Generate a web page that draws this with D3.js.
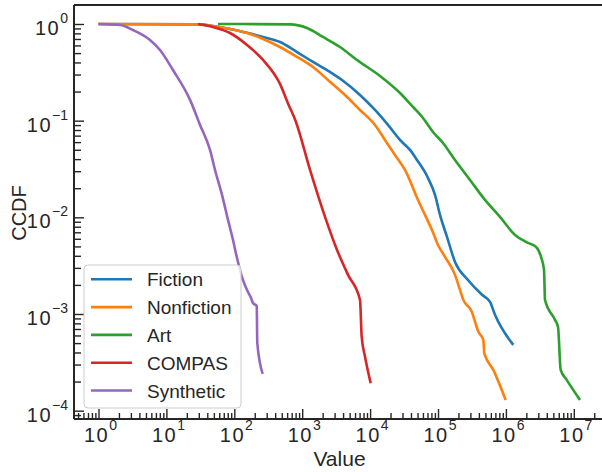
<!DOCTYPE html>
<html>
<head>
<meta charset="utf-8">
<script src="https://cdn.jsdelivr.net/npm/d3@7.9.0/dist/d3.min.js"></script>
<style>
  body { margin: 0; background: #fff; }
  svg { font-family: Arial, "Liberation Sans", sans-serif; }
</style>
</head>
<body>
<svg id="chart" width="602" height="472"></svg>
<script>
// series names + colors (legend order)
const names = ['Fiction', 'Nonfiction', 'Art', 'COMPAS', 'Synthetic'];
const colors = ['#1f77b4', '#ff7f0e', '#2ca02c', '#d62728', '#9467bd'];

// values: [value, ccdf]
const fiction = [[1,1],[28,0.99],[48.6,0.953],[86.5,0.888],[154,0.81],[265,0.734],[471,0.651],[838,0.513],
  [1442,0.405],[2567,0.319],[3856,0.2636],[7100,0.1844],[11810,0.129],[18350,0.0903],[27570,0.0632],
  [38690,0.0498],[49070,0.0392],[71250,0.02556],[90330,0.01705],[107000,0.01059],[135700,0.00627],
  [178000,0.00346],[276600,0.00225],[444600,0.00158],[583300,0.001334],[691000,0.00098],[1285000,0.000479]];
const nonfiction = [[1,1],[28,0.99],[48.6,0.953],[86.5,0.888],[154,0.807],[265,0.70],[471,0.578],[838,0.456],
  [1442,0.359],[2399,0.2636],[4270,0.1844],[7100,0.129],[11810,0.0903],[16570,0.0632],[23260,0.0442],
  [32660,0.0309],[50760,0.01514],[64350,0.01059],[81560,0.00741],[100000,0.00518],[126800,0.0039],
  [178000,0.00254],[210900,0.001775],[235900,0.0014],[313500,0.001059],[350700,0.000834],[392300,0.000658],
  [464700,0.00054],[480700,0.000393],[652200,0.000264],[993000,0.000129]];
const art = [[57.5,1],[661,0.99],[1177,0.909],[2025,0.734],[3604,0.578],[6413,0.424],[13990,0.29],
  [27570,0.1934],[42830,0.1386],[60120,0.1066],[84400,0.0764],[118500,0.0588],[178000,0.0392],
  [295900,0.02436],[492300,0.01514],[818800,0.01009],[1361000,0.00658],[2116000,0.00544],[2776000,0.00494],
  [3289000,0.0039],[3641000,0.00286],[3766000,0.0014],[5285000,0.000869],[5853000,0.000735],
  [6412000,0.000264],[7862000,0.000208],[12340000,0.000129]];
const compas = [[29.2,1],[48.5,0.931],[86.4,0.807],[154,0.607],[265,0.425],[471,0.24],[620,0.15],[800,0.0993],
  [1304,0.0309],[2168,0.0101],[3258,0.0046],[4730,0.00254],[7100,0.0014],[7515,0.000583],[8410,0.000363],
  [10200,0.000192]];
const synthetic = [[1,1],[2.07,0.976],[3.22,0.867],[5.73,0.684],[8.05,0.538],[12.5,0.334],[22.3,0.164],
  [31.3,0.0903],[43.9,0.0498],[52,0.0309],[65.9,0.0171],[80.8,0.0094],[95.7,0.00583],[109.6,0.0038],
  [134,0.00225],[154,0.00177],[176,0.00147],[188.5,0.0013],[214,0.00121],[218,0.000502],[262,0.00024]];

const series = [fiction, nonfiction, art, compas, synthetic];

// tick exponents
const xExps = [0, 1, 2, 3, 4, 5, 6, 7];
const yExps = [0, -1, -2, -3, -4];

const pLeft = 74, pRight = 605, pTop = 5, pBottom = 419;
const ink = '#262626';

const x = d3.scaleLog().domain([0.4357, 2.88e7]).range([pLeft, pRight]);
const y = d3.scaleLog().domain([8.2e-5, 1.572]).range([pBottom, pTop]);

const svg = d3.select('#chart');

// minor ticks: 2..9 of every decade inside the domain
function minors(scale, lo, hi) {
  let out = [];
  let [d0, d1] = scale.domain();
  for (let e = lo; e <= hi; e++) {
    for (let m = 2; m <= 9; m++) {
      let v = m * Math.pow(10, e);
      if (v >= d0 && v <= d1) out.push(v);
    }
  }
  return out;
}

svg.append('defs').append('clipPath').attr('id', 'plot')
  .append('rect').attr('x', pLeft).attr('y', pTop).attr('width', pRight - pLeft).attr('height', pBottom - pTop);

// lines
let line = d3.line().x((d) => x(d[0])).y((d) => y(d[1])).curve(d3.curveMonotoneX);
series.forEach((s, idx) => {
  svg.append('path')
    .attr('d', line(s))
    .attr('fill', 'none')
    .attr('stroke', colors[idx])
    .attr('stroke-width', 2.6)
    .attr('stroke-linejoin', 'round')
    .attr('clip-path', 'url(#plot)');
});

// x axis (ticks pointing in)
svg.append('g').attr('transform', `translate(0,${pBottom})`)
  .call(d3.axisBottom(x).tickValues(xExps.map((e) => Math.pow(10, e))).tickSize(-10).tickFormat(''));
svg.append('g').attr('transform', `translate(0,${pBottom})`)
  .call(d3.axisBottom(x).tickValues(minors(x, -1, 7)).tickSize(-6).tickFormat(''));

// y axis
svg.append('g').attr('transform', `translate(${pLeft},0)`)
  .call(d3.axisLeft(y).tickValues(yExps.map((e) => Math.pow(10, e))).tickSize(-10).tickFormat(''));
svg.append('g').attr('transform', `translate(${pLeft},0)`)
  .call(d3.axisLeft(y).tickValues(minors(y, -5, 0)).tickSize(-7).tickFormat(''));

svg.selectAll('.domain').remove();
svg.selectAll('.tick line').attr('stroke', ink).attr('stroke-width', 1.4);

// spines: left, bottom, top
svg.append('line').attr('x1', pLeft).attr('x2', pLeft).attr('y1', pTop).attr('y2', pBottom)
  .attr('stroke', ink).attr('stroke-width', 2);
svg.append('line').attr('x1', pLeft).attr('x2', 602).attr('y1', pBottom).attr('y2', pBottom)
  .attr('stroke', ink).attr('stroke-width', 2);
svg.append('line').attr('x1', pLeft).attr('x2', 602).attr('y1', pTop).attr('y2', pTop)
  .attr('stroke', ink).attr('stroke-width', 2);

// power-of-ten labels
function powLabel(g, e) {
  g.append('tspan').attr('letter-spacing', 1.5).text('10');
  g.append('tspan').attr('dy', -12).attr('font-size', 14)
    .text(e < 0 ? '\u2212' + Math.abs(e) : String(e));
}
xExps.forEach((e) => {
  let t = svg.append('text')
    .attr('x', x(Math.pow(10, e)) + 2)
    .attr('y', 442)
    .attr('text-anchor', 'middle')
    .attr('font-size', 20)
    .attr('fill', ink);
  powLabel(t, e);
});
yExps.forEach((e) => {
  let t = svg.append('text')
    .attr('x', 68)
    .attr('y', y(Math.pow(10, e)) + 11)
    .attr('text-anchor', 'end')
    .attr('font-size', 20)
    .attr('fill', ink);
  powLabel(t, e);
});

// axis titles
svg.append('text').attr('x', 339.5).attr('y', 466).attr('text-anchor', 'middle')
  .attr('font-size', 21).attr('fill', ink).text('Value');
svg.append('text').attr('transform', 'translate(26,213) rotate(-90)').attr('text-anchor', 'middle')
  .attr('font-size', 20).attr('fill', ink).text('CCDF');

// legend
let legend = svg.append('g');
legend.append('rect')
  .attr('x', 84).attr('y', 265).attr('width', 157).attr('height', 143).attr('rx', 4)
  .attr('fill', '#fff').attr('fill-opacity', 0.8).attr('stroke', '#cccccc').attr('stroke-width', 1);
names.forEach((n, idx) => {
  let ly = 279.3 + idx * 27.8;
  legend.append('line').attr('x1', 91).attr('x2', 132).attr('y1', ly).attr('y2', ly)
    .attr('stroke', colors[idx]).attr('stroke-width', 2.6);
  legend.append('text').attr('x', 147).attr('y', ly + 7).attr('font-size', 19)
    .attr('fill', ink).text(n);
});
</script>
</body>
</html>
